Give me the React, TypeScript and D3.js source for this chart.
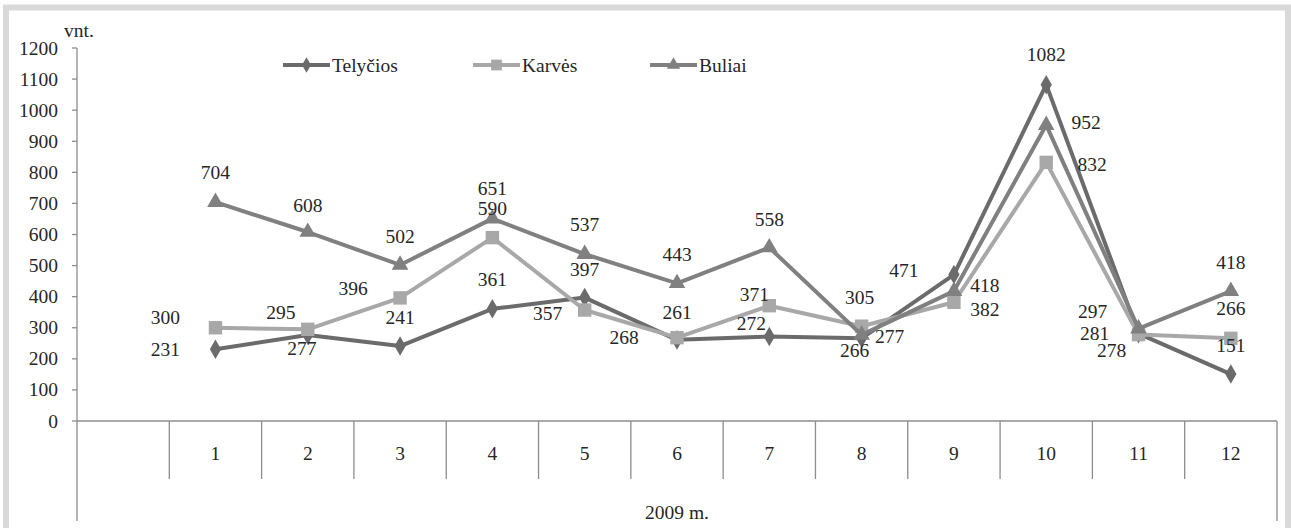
import React from "react";
import * as d3 from "d3";

const categories = ["", "1", "2", "3", "4", "5", "6", "7", "8", "9", "10", "11", "12"];
const months = ["1", "2", "3", "4", "5", "6", "7", "8", "9", "10", "11", "12"];
const telycios = [231, 277, 241, 361, 397, 261, 272, 266, 471, 1082, 281, 151];
const karves = [300, 295, 396, 590, 357, 268, 371, 305, 382, 832, 278, 266];
const buliai = [704, 608, 502, 651, 537, 443, 558, 277, 418, 952, 297, 418];
const yTicks = [0, 100, 200, 300, 400, 500, 600, 700, 800, 900, 1000, 1100, 1200];
const groupLabel = "2009 m.";
const unitLabel = "vnt.";

// label placement offsets relative to the point (layout only)
const telyciosLabelOff = [[-50, 0], [-6, 14], [0, -29], [0, -29], [0, -28], [0, -27], [-18, -13], [-7, 12], [-50, -4], [0, -30], [-44, 0], [0, -29]];
const karvesLabelOff = [[-50, -10], [-27, -17], [-47, -9], [0, -29], [-37, 3], [-53, 0], [-15, -11], [-2, -29], [31, 7], [46, 2], [-27, 16], [0, -30]];
const buliaiLabelOff = [[0, -30], [0, -27], [0, -28], [0, -30], [0, -30], [0, -29], [0, -28], [28, 2], [31, -6], [40, -3], [-46, -17], [0, -29]];

const W = 1291;
const H = 528;
const FONT = "Liberation Serif, Times New Roman, serif";
const TEXT = "#262626";
const AXIS = "#8c8c8c";

const x = d3.scaleBand<string>().domain(categories).range([77, 1277]).paddingInner(0).paddingOuter(0);
const y = d3.scaleLinear().domain([0, 1200]).range([421, 48]);
const cx = (m: string) => (x(m) as number) + x.bandwidth() / 2;

type Series = { name: string; values: number[]; color: string; marker: string; off: number[][] };
const series: Series[] = [
  { name: "Telyčios", values: telycios, color: "#6b6b6b", marker: "diamond", off: telyciosLabelOff },
  { name: "Karvės", values: karves, color: "#a8a8a8", marker: "square", off: karvesLabelOff },
  { name: "Buliai", values: buliai, color: "#808080", marker: "triangle", off: buliaiLabelOff },
];

const symbolPath = (marker: string) => {
  if (marker === "diamond") return d3.symbol(d3.symbolDiamond, 110)() as string;
  if (marker === "square") return d3.symbol(d3.symbolSquare, 180)() as string;
  return d3.symbol(d3.symbolTriangle, 120)() as string;
};

const legendPos = [283, 473, 650];

const txt: React.CSSProperties = { fontFamily: FONT, fontSize: 19.5 };

export default function App() {
  const line = d3
    .line<number>()
    .x((_, i) => cx(months[i]))
    .y((v) => y(v));

  return (
    <svg width={W} height={H} style={{ position: "absolute", left: 0, top: 0, background: "#fff", fontFamily: FONT }}>
      <rect x={6} y={7.5} width={1282} height={600} fill="#fff" stroke="#d9d9d9" strokeWidth={6} />
      {/* y axis */}
      <line x1={77} x2={77} y1={48} y2={521} stroke={AXIS} strokeWidth={1.3} />
      {yTicks.map((t) => (
        <g key={t}>
          <line x1={72} x2={77} y1={y(t)} y2={y(t)} stroke={AXIS} strokeWidth={1.3} />
          <text x={58} y={y(t)} textAnchor="end" dominantBaseline="central" style={txt} fill={TEXT}>
            {t}
          </text>
        </g>
      ))}
      <text x={64} y={30} style={txt} fill={TEXT} dominantBaseline="central">
        {unitLabel}
      </text>
      {/* x axis */}
      <line x1={77} x2={1277} y1={y(0)} y2={y(0)} stroke={AXIS} strokeWidth={1.3} />
      {categories.slice(1).map((c) => (
        <line key={"s" + c} x1={x(c) as number} x2={x(c) as number} y1={y(0)} y2={479} stroke={AXIS} strokeWidth={1.3} />
      ))}
      <line x1={1277} x2={1277} y1={y(0)} y2={521} stroke={AXIS} strokeWidth={1.3} />
      {months.map((m) => (
        <text key={"l" + m} x={cx(m)} y={453} textAnchor="middle" dominantBaseline="central" style={txt} fill={TEXT}>
          {m}
        </text>
      ))}
      <text x={677} y={512} textAnchor="middle" dominantBaseline="central" style={txt} fill={TEXT}>
        {groupLabel}
      </text>
      {/* series */}
      {series.map((s) => (
        <g key={s.name}>
          <path d={line(s.values) as string} fill="none" stroke={s.color} strokeWidth={4} strokeLinejoin="round" />
          {s.values.map((v, i) => (
            <path key={i} d={symbolPath(s.marker)} transform={`translate(${cx(months[i])},${y(v)})`} fill={s.color} />
          ))}
        </g>
      ))}
      {series.map((s) => (
        <g key={s.name + "lbl"}>
          {s.values.map((v, i) => (
            <text
              key={i}
              x={cx(months[i]) + s.off[i][0]}
              y={y(v) + s.off[i][1]}
              textAnchor="middle"
              dominantBaseline="central"
              style={txt}
              fill={TEXT}
            >
              {v}
            </text>
          ))}
        </g>
      ))}
      {/* legend */}
      {series.map((s, i) => (
        <g key={s.name + "leg"} transform={`translate(${legendPos[i]},65)`}>
          <line x1={0} x2={47} y1={0} y2={0} stroke={s.color} strokeWidth={4} />
          <path d={symbolPath(s.marker)} transform="translate(23.5,0) scale(0.8)" fill={s.color} />
          <text x={49} y={0} dominantBaseline="central" style={txt} fill={TEXT}>
            {s.name}
          </text>
        </g>
      ))}
    </svg>
  );
}
